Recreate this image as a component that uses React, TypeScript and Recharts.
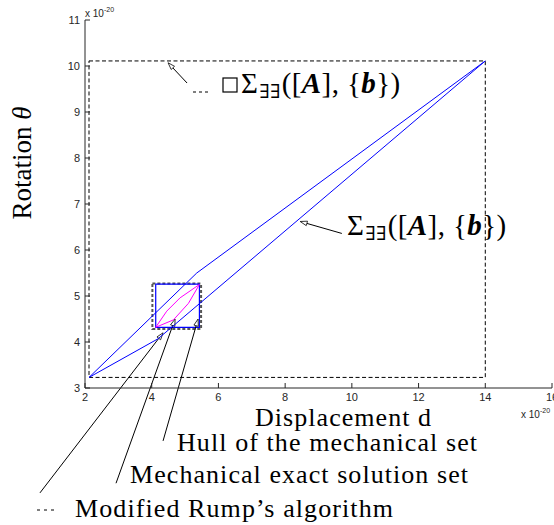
import React from 'react';
import { ScatterChart, Scatter, XAxis, YAxis, ReferenceArea, ReferenceLine } from 'recharts';

const xTicks = [2, 4, 6, 8, 10, 12, 14, 16];
const yTicks = [3, 4, 5, 6, 7, 8, 9, 10, 11];

// Sigma_EE region (closed polygon)
const sigmaRegion = [
  { x: 2.12, y: 3.23 },
  { x: 5.35, y: 5.5 },
  { x: 14, y: 10.11 },
  { x: 4.19, y: 4.07 },
  { x: 2.12, y: 3.23 },
];

// Mechanical exact solution set (lens)
const exactSet = [
  { x: 4.12, y: 4.32 },
  { x: 4.45, y: 4.67 },
  { x: 4.85, y: 4.96 },
  { x: 5.43, y: 5.25 },
  { x: 5.1, y: 4.84 },
  { x: 4.65, y: 4.48 },
  { x: 4.12, y: 4.32 },
];

const hullBox = { x1: 2.12, x2: 14, y1: 3.23, y2: 10.11 };
const mechHull = { x1: 4.12, x2: 5.43, y1: 4.32, y2: 5.26 };
const rumpBox = { x1: 4.02, x2: 5.48, y1: 4.28, y2: 5.27 };

// annotation pointers: tip -> tail
const pointers = [
  { tip: { x: 4.49, y: 10.07 }, tail: { x: 5.06, y: 9.63 } },
  { tip: { x: 8.45, y: 6.62 }, tail: { x: 9.7, y: 6.36 } },
  { tip: { x: 5.39, y: 4.5 }, tail: { x: 4.34, y: 1.85 } },
  { tip: { x: 4.7, y: 4.5 }, tail: { x: 2.93, y: 0.93 } },
  { tip: { x: 4.34, y: 4.2 }, tail: { x: 0.65, y: 0.72 } },
];

const serif = "'Liberation Serif', 'DejaVu Serif', serif";
const sans = "'Liberation Sans', Arial, sans-serif";

const Nothing = () => <g />;

const Pointer = (props: any) => {
  const { x1, y1, x2, y2 } = props;
  const dx = x1 - x2;
  const dy = y1 - y2;
  const len = Math.sqrt(dx * dx + dy * dy) || 1;
  const ux = dx / len;
  const uy = dy / len;
  const px = -uy;
  const py = ux;
  const L = 7;
  const W = 2.3;
  const bx = x1 - ux * L;
  const by = y1 - uy * L;
  const pts = `${x1},${y1} ${bx + px * W},${by + py * W} ${bx - px * W},${by - py * W}`;
  return (
    <g>
      <line x1={bx} y1={by} x2={x2} y2={y2} stroke="#000" strokeWidth={1} />
      <polygon points={pts} fill="#fff" stroke="#000" strokeWidth={0.8} />
    </g>
  );
};

const SigmaText = ({ x, y }: { x: number; y: number }) => (
  <text x={x} y={y} fontSize={29} fontFamily={serif} fill="#000" letterSpacing={0.4}>
    Σ
    <tspan fontSize={19} dy={5} dx={1}>∃∃</tspan>
    <tspan dy={-5} dx={1}>([</tspan>
    <tspan fontWeight="bold" fontStyle="italic">A</tspan>
    <tspan>], {'{'}</tspan>
    <tspan fontWeight="bold" fontStyle="italic">b</tspan>
    <tspan>{'})'}</tspan>
  </text>
);

export default function App() {
  return (
    <div style={{ position: 'absolute', left: 0, top: 0, width: 554, height: 525, background: '#fff' }}>
      <ScatterChart width={554} height={525} margin={{ top: 20, right: 2, left: 0, bottom: 107 }}>
        <XAxis
          type="number"
          dataKey="x"
          domain={[2, 16]}
          allowDataOverflow
          ticks={xTicks}
          interval={0}
          height={30}
          tickSize={-5}
          tickMargin={10}
          stroke="#262626"
          tick={{ fontSize: 11, fill: '#262626', fontFamily: sans }}
        />
        <YAxis
          type="number"
          dataKey="y"
          domain={[3, 11]}
          allowDataOverflow
          ticks={yTicks}
          interval={0}
          width={85}
          tickSize={-5}
          tickMargin={10}
          stroke="#262626"
          tick={{ fontSize: 11, fill: '#262626', fontFamily: sans }}
        />
        <ReferenceArea {...hullBox} fill="none" fillOpacity={0} stroke="#000" strokeWidth={1} strokeDasharray="4 2.5" ifOverflow="visible" />
        <Scatter
          data={sigmaRegion}
          shape={Nothing}
          line={{ stroke: '#0000ff', strokeWidth: 1 }}
          lineType="joint"
          isAnimationActive={false}
        />
        <ReferenceArea {...rumpBox} fill="none" fillOpacity={0} stroke="#555" strokeWidth={2} strokeDasharray="3 2" ifOverflow="visible" />
        <ReferenceArea {...mechHull} fill="none" fillOpacity={0} stroke="#0000ff" strokeWidth={1.2} ifOverflow="visible" />
        <Scatter
          data={exactSet}
          shape={Nothing}
          line={{ stroke: '#ff00ff', strokeWidth: 1 }}
          lineType="joint"
          isAnimationActive={false}
        />
        {pointers.map((p, i) => (
          <ReferenceLine key={i} segment={[p.tip, p.tail]} ifOverflow="visible" shape={Pointer} />
        ))}
      </ScatterChart>
      <svg
        width={554}
        height={525}
        style={{ position: 'absolute', left: 0, top: 0, pointerEvents: 'none', overflow: 'hidden' }}
      >
        <text x={85} y={17} fontSize={10} fontFamily={sans} fill="#262626">
          x 10<tspan fontSize={7} dy={-5}>-20</tspan>
        </text>
        <text x={521} y={418} fontSize={10} fontFamily={sans} fill="#262626">
          x 10<tspan fontSize={7} dy={-5}>-20</tspan>
        </text>
        <text transform="translate(31,163) rotate(-90)" textAnchor="middle" fontSize={27} fontFamily={serif} fill="#000">
          Rotation <tspan fontStyle="italic">θ</tspan>
        </text>
        <text x={255} y={426} fontSize={26} fontFamily={serif} fill="#000" textLength={176} lengthAdjust="spacing">Displacement d</text>
        <line x1={193} x2={208} y1={92} y2={92} stroke="#000" strokeWidth={1} strokeDasharray="3 3" />
        <rect x={223} y={78} width={14} height={14} fill="none" stroke="#000" strokeWidth={1.2} />
        <SigmaText x={241} y={93} />
        <SigmaText x={347} y={235} />
        <text x={177} y={451} fontSize={26} fontFamily={serif} fill="#000" textLength={300} lengthAdjust="spacing">Hull of the mechanical set</text>
        <text x={130} y={483} fontSize={26} fontFamily={serif} fill="#000" textLength={338} lengthAdjust="spacing">Mechanical exact solution set</text>
        <line x1={37} x2={55} y1={510} y2={510} stroke="#000" strokeWidth={1} strokeDasharray="3 4" />
        <text x={75} y={517} fontSize={26} fontFamily={serif} fill="#000" textLength={318} lengthAdjust="spacing">Modified Rump’s algorithm</text>
      </svg>
    </div>
  );
}
